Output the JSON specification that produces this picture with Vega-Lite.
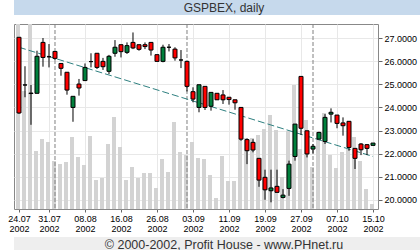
{
  "$schema": "https://vega.github.io/schema/vega-lite/v6.json",
  "padding": 0,
  "background": "white",
  "config": {"view": {"stroke": null}, "font": "Liberation Sans"},
  "datasets": {
    "prices": [
      {"d": "24.07.2002", "o": 27.03, "h": 27.03, "l": 23.72, "c": 23.76, "v": 200, "t": 26.6},
      {"d": "25.07.2002", "o": 24.97, "h": 25.78, "l": 24.44, "c": 24.97, "v": 118},
      {"d": "26.07.2002", "o": 24.60, "h": 24.97, "l": 23.25, "c": 24.62, "v": 200},
      {"d": "29.07.2002", "o": 24.61, "h": 26.45, "l": 24.61, "c": 26.21, "v": 58},
      {"d": "30.07.2002", "o": 26.81, "h": 27.00, "l": 25.76, "c": 26.16, "v": 70},
      {"d": "31.07.2002", "o": 26.19, "h": 26.74, "l": 25.73, "c": 26.19, "v": 67},
      {"d": "01.08.2002", "o": 26.42, "h": 26.42, "l": 26.05, "c": 26.12, "v": 48, "m": 1},
      {"d": "02.08.2002", "o": 25.90, "h": 25.90, "l": 25.37, "c": 25.69, "v": 45},
      {"d": "05.08.2002", "o": 25.52, "h": 25.52, "l": 24.55, "c": 24.75, "v": 47},
      {"d": "06.08.2002", "o": 24.00, "h": 24.48, "l": 23.38, "c": 24.48, "v": 72},
      {"d": "07.08.2002", "o": 25.01, "h": 25.23, "l": 24.51, "c": 24.84, "v": 52},
      {"d": "08.08.2002", "o": 25.16, "h": 25.90, "l": 25.14, "c": 25.73, "v": 44},
      {"d": "09.08.2002", "o": 25.98, "h": 26.34, "l": 25.73, "c": 25.98, "v": 73},
      {"d": "12.08.2002", "o": 26.34, "h": 26.34, "l": 25.66, "c": 25.73, "v": 29},
      {"d": "13.08.2002", "o": 25.99, "h": 26.14, "l": 25.62, "c": 25.76, "v": 31},
      {"d": "14.08.2002", "o": 25.56, "h": 26.27, "l": 25.44, "c": 26.21, "v": 65},
      {"d": "15.08.2002", "o": 26.34, "h": 26.91, "l": 26.19, "c": 26.60, "v": 92},
      {"d": "16.08.2002", "o": 26.71, "h": 26.71, "l": 26.16, "c": 26.41, "v": 62},
      {"d": "19.08.2002", "o": 26.38, "h": 26.81, "l": 26.31, "c": 26.67, "v": 29},
      {"d": "20.08.2002", "o": 26.81, "h": 27.24, "l": 26.52, "c": 26.57, "v": 42},
      {"d": "21.08.2002", "o": 26.71, "h": 26.71, "l": 26.45, "c": 26.51, "v": 31},
      {"d": "22.08.2002", "o": 26.71, "h": 26.81, "l": 26.52, "c": 26.63, "v": 36},
      {"d": "23.08.2002", "o": 26.81, "h": 26.81, "l": 26.24, "c": 26.48, "v": 36},
      {"d": "26.08.2002", "o": 26.28, "h": 26.28, "l": 25.99, "c": 25.99, "v": 21},
      {"d": "27.08.2002", "o": 25.99, "h": 26.71, "l": 25.95, "c": 26.60, "v": 50},
      {"d": "28.08.2002", "o": 26.60, "h": 26.74, "l": 26.42, "c": 26.60, "v": 37},
      {"d": "29.08.2002", "o": 26.52, "h": 26.60, "l": 26.02, "c": 26.14, "v": 87},
      {"d": "30.08.2002", "o": 26.05, "h": 26.48, "l": 25.70, "c": 26.05, "v": 57},
      {"d": "02.09.2002", "o": 25.99, "h": 25.99, "l": 24.69, "c": 24.91, "v": 54, "m": 1},
      {"d": "03.09.2002", "o": 24.68, "h": 24.87, "l": 24.22, "c": 24.36, "v": 67},
      {"d": "04.09.2002", "o": 24.00, "h": 24.98, "l": 23.79, "c": 24.98, "v": 51},
      {"d": "05.09.2002", "o": 24.91, "h": 24.91, "l": 23.89, "c": 24.00, "v": 50},
      {"d": "06.09.2002", "o": 24.05, "h": 24.65, "l": 23.86, "c": 24.65, "v": 34},
      {"d": "09.09.2002", "o": 24.61, "h": 24.61, "l": 24.33, "c": 24.33, "v": 11},
      {"d": "10.09.2002", "o": 24.54, "h": 24.75, "l": 24.15, "c": 24.33, "v": 53},
      {"d": "11.09.2002", "o": 24.44, "h": 24.44, "l": 24.12, "c": 24.34, "v": 28},
      {"d": "12.09.2002", "o": 24.33, "h": 24.33, "l": 23.90, "c": 24.20, "v": 28},
      {"d": "13.09.2002", "o": 24.00, "h": 24.00, "l": 22.56, "c": 22.63, "v": 70},
      {"d": "16.09.2002", "o": 22.61, "h": 22.66, "l": 21.55, "c": 22.13, "v": 71},
      {"d": "17.09.2002", "o": 22.49, "h": 22.63, "l": 22.06, "c": 22.16, "v": 71},
      {"d": "18.09.2002", "o": 21.80, "h": 21.80, "l": 20.57, "c": 20.86, "v": 74},
      {"d": "19.09.2002", "o": 20.98, "h": 21.31, "l": 20.01, "c": 20.44, "v": 80},
      {"d": "20.09.2002", "o": 20.40, "h": 21.31, "l": 19.90, "c": 20.52, "v": 94},
      {"d": "23.09.2002", "o": 20.59, "h": 21.31, "l": 20.33, "c": 20.33, "v": 79},
      {"d": "24.09.2002", "o": 20.11, "h": 20.47, "l": 20.07, "c": 20.21, "v": 32},
      {"d": "25.09.2002", "o": 20.50, "h": 21.70, "l": 20.18, "c": 21.55, "v": 78},
      {"d": "26.09.2002", "o": 21.88, "h": 23.28, "l": 21.70, "c": 23.28, "v": 124},
      {"d": "27.09.2002", "o": 25.34, "h": 25.34, "l": 22.81, "c": 23.10, "v": 60},
      {"d": "30.09.2002", "o": 22.99, "h": 22.99, "l": 21.84, "c": 21.99, "v": 89},
      {"d": "01.10.2002", "o": 22.20, "h": 22.42, "l": 22.01, "c": 22.32, "v": 42, "m": 1},
      {"d": "02.10.2002", "o": 22.63, "h": 22.95, "l": 22.63, "c": 22.92, "v": 77},
      {"d": "03.10.2002", "o": 22.53, "h": 23.71, "l": 22.42, "c": 23.57, "v": 96},
      {"d": "04.10.2002", "o": 23.71, "h": 23.96, "l": 23.35, "c": 23.79, "v": 54},
      {"d": "07.10.2002", "o": 23.67, "h": 23.67, "l": 23.10, "c": 23.31, "v": 41},
      {"d": "08.10.2002", "o": 23.33, "h": 23.57, "l": 22.78, "c": 23.21, "v": 57},
      {"d": "09.10.2002", "o": 23.40, "h": 23.40, "l": 22.13, "c": 22.27, "v": 60},
      {"d": "10.10.2002", "o": 22.23, "h": 22.23, "l": 21.34, "c": 21.80, "v": 72},
      {"d": "11.10.2002", "o": 22.42, "h": 22.46, "l": 21.94, "c": 22.17, "v": 48},
      {"d": "14.10.2002", "o": 22.39, "h": 22.42, "l": 21.94, "c": 22.23, "v": 20},
      {"d": "15.10.2002", "o": 22.36, "h": 22.46, "l": 22.36, "c": 22.46, "v": 5, "t": 21.88}
    ]
  },
  "concat": [
    {
      "width": 420,
      "height": 15,
      "view": {"fill": "#c6d9ec", "stroke": null},
      "data": {"values": [{"label": "GSPBEX, daily"}]},
      "mark": {"type": "text", "font": "Liberation Sans", "fontSize": 12, "color": "#333333"},
      "encoding": {"text": {"field": "label"}}
    },
    {
      "width": 364,
      "height": 185,
      "view": {"stroke": "#888888"},
      "data": {"name": "prices"},
      "layer": [
        {
          "mark": {"type": "bar", "size": 4, "color": "#d3d3d3", "clip": true, "xOffset": -1},
          "encoding": {
            "x": {
              "field": "d", "type": "ordinal", "sort": null,
              "scale": {"type": "point", "padding": 0.8333},
              "axis": {"orient": "top", "labels": false, "ticks": false, "domain": false, "grid": false, "title": null, "minExtent": 8, "maxExtent": 8}
            },
            "y": {
              "field": "v", "type": "quantitative",
              "scale": {"domain": [0, 185], "nice": false},
              "axis": {"orient": "left", "labels": false, "ticks": false, "domain": false, "grid": false, "title": null, "minExtent": 13, "maxExtent": 13}
            }
          }
        },
        {
          "transform": [{"filter": "datum.m === 1"}],
          "mark": {"type": "rule", "color": "#808080", "strokeDash": [4, 2], "strokeWidth": 1},
          "encoding": {
            "x": {"field": "d", "type": "ordinal", "sort": null, "scale": {"type": "point"}, "axis": null}
          }
        },
        {
          "transform": [{"filter": "isValid(datum.t)"}],
          "mark": {"type": "line", "color": "#2e8080", "strokeDash": [7, 3], "strokeWidth": 1},
          "encoding": {
            "x": {"field": "d", "type": "ordinal", "sort": null, "scale": {"type": "point"}, "axis": null},
            "y": {"field": "t", "type": "quantitative", "scale": {"domain": [19.611, 27.605], "nice": false, "zero": false}, "axis": null}
          }
        },
        {
          "mark": {"type": "rule", "color": "black", "strokeWidth": 1},
          "encoding": {
            "x": {"field": "d", "type": "ordinal", "sort": null, "scale": {"type": "point"}, "axis": null},
            "y": {"field": "l", "type": "quantitative", "scale": {"domain": [19.611, 27.605], "nice": false, "zero": false}, "axis": null},
            "y2": {"field": "h"}
          }
        },
        {
          "mark": {"type": "bar", "size": 4, "stroke": "black", "strokeWidth": 1},
          "encoding": {
            "x": {
              "field": "d", "type": "ordinal", "sort": null, "scale": {"type": "point"},
              "axis": {
                "orient": "bottom",
                "values": ["24.07.2002", "31.07.2002", "08.08.2002", "16.08.2002", "26.08.2002", "03.09.2002", "11.09.2002", "19.09.2002", "27.09.2002", "07.10.2002", "15.10.2002"],
                "labelExpr": "[slice(datum.value, 0, 5), slice(datum.value, 6)]",
                "labelAngle": 0,
                "labelFont": "Liberation Sans",
                "labelFontSize": 9,
                "labelColor": "#000000",
                "labelLineHeight": 10.5,
                "labelPadding": 2,
                "labelOverlap": false,
                "tickSize": 3,
                "tickColor": "#666666",
                "domain": false,
                "grid": true,
                "gridColor": "#e8e8e8",
                "title": null,
                "minExtent": 27
              }
            },
            "y": {
              "field": "o", "type": "quantitative",
              "scale": {"domain": [19.611, 27.605], "nice": false, "zero": false},
              "axis": {
                "orient": "right",
                "values": [20, 21, 22, 23, 24, 25, 26, 27],
                "format": ".4f",
                "labelOverlap": false,
                "labelFont": "Liberation Sans",
                "labelFontSize": 9,
                "labelColor": "#000000",
                "labelPadding": 2,
                "tickSize": 4,
                "tickColor": "#666666",
                "domain": false,
                "grid": true,
                "gridColor": "#e8e8e8",
                "title": null
              }
            },
            "y2": {"field": "c"},
            "fill": {"condition": {"test": "datum.c >= datum.o", "value": "#00803c"}, "value": "#ff0000"}
          }
        }
      ],
      "resolve": {"scale": {"y": "independent"}, "axis": {"x": "independent", "y": "independent"}}
    },
    {
      "width": 420,
      "height": 15,
      "view": {"fill": "#eeeeee", "stroke": null},
      "data": {"values": [{"label": "© 2000-2002, Profit House - www.PHnet.ru"}]},
      "mark": {"type": "text", "font": "Liberation Sans", "fontSize": 12.5, "color": "#333333"},
      "encoding": {"text": {"field": "label"}}
    }
  ],
  "columns": 1,
  "align": "none",
  "spacing": 0
}
